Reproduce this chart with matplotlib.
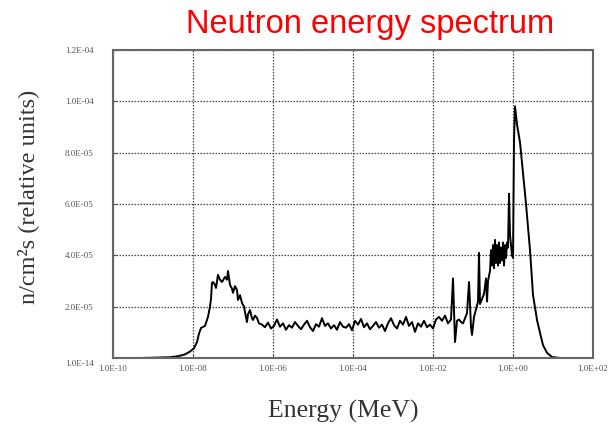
import numpy as np
import matplotlib
matplotlib.use("Agg")
import matplotlib.pyplot as plt
import matplotlib.transforms as mtransforms


# spectrum read as log10(E / MeV) and flux in units of 1e-5 n/cm2s
log_energy = [
    -9.325, -9.075, -8.825, -8.575, -8.375, -8.2, -8.075, -7.975, -7.9, -7.85,
    -7.8, -7.7, -7.625, -7.575, -7.55, -7.525, -7.5, -7.45, -7.425, -7.375,
    -7.325, -7.275, -7.2, -7.15, -7.125, -7.075, -7.025, -7.0, -6.95, -6.9,
    -6.875, -6.825, -6.775, -6.725, -6.7, -6.65, -6.625, -6.575, -6.525, -6.5,
    -6.45, -6.4, -6.35,
    -6.275, -6.2, -6.125, -6.05, -5.975, -5.9, -5.825, -5.75, -5.675, -5.6,
    -5.525, -5.45, -5.375, -5.3, -5.225, -5.15, -5.075, -5.0, -4.925, -4.85,
    -4.775, -4.7, -4.625, -4.55, -4.475, -4.4, -4.325, -4.25, -4.175, -4.1,
    -4.025, -3.95, -3.875, -3.8, -3.725, -3.65, -3.575, -3.5, -3.425, -3.35,
    -3.275, -3.2, -3.125, -3.05, -2.975, -2.9, -2.825, -2.75, -2.675, -2.6,
    -2.525, -2.45, -2.375, -2.3, -2.225, -2.15, -2.075, -2.0, -1.925, -1.85,
    -1.775, -1.7, -1.625,
    -1.55, -1.5, -1.45, -1.4, -1.35, -1.3, -1.25, -1.2, -1.15, -1.1,
    -1.05, -1.025, -0.975, -0.925, -0.875, -0.85, -0.825, -0.775, -0.725, -0.675,
    -0.65, -0.625, -0.575, -0.55, -0.525, -0.5, -0.475, -0.45, -0.425, -0.4,
    -0.375, -0.35, -0.325, -0.3, -0.275, -0.25, -0.225, -0.2, -0.175, -0.15,
    -0.125, -0.1, -0.075, -0.05, -0.025, 0.0, 0.025, 0.05, 0.1, 0.175,
    0.25, 0.325, 0.425, 0.5, 0.6, 0.675, 0.75, 0.85, 0.975, 1.175,
]
flux = [
    0.0, 0.01, 0.02, 0.03, 0.07, 0.14, 0.25, 0.38, 0.62, 0.95,
    1.17, 1.25, 1.60, 2.00, 2.30, 2.93, 2.96, 2.85, 2.73, 3.24,
    3.05, 2.96, 3.16, 3.05, 3.39, 2.85, 2.70, 2.54, 2.80, 2.65,
    2.26, 2.45, 2.15, 2.00, 1.79, 1.40, 1.70, 1.87, 1.55, 1.48,
    1.65, 1.56, 1.35,
    1.30, 1.20, 1.38, 1.15, 1.25, 1.50, 1.22, 1.35, 1.10, 1.28,
    1.18, 1.40, 1.25, 1.12, 1.30, 1.45, 1.20, 1.05, 1.32, 1.22,
    1.55, 1.25, 1.35, 1.15, 1.28, 1.10, 1.40, 1.22, 1.18, 1.32,
    1.08, 1.45, 1.30, 1.52, 1.20, 1.35, 1.12, 1.25, 1.40, 1.18,
    1.30, 1.05, 1.35, 1.55, 1.28, 1.15, 1.45, 1.30, 1.60, 1.25,
    1.40, 1.02, 1.35, 1.22, 1.45, 1.20, 1.30, 1.15, 1.50, 1.60,
    1.45, 1.65, 1.35,
    1.50, 3.10, 0.62, 1.45, 1.50, 1.40, 1.35, 1.55, 1.75, 2.96,
    1.20, 0.90, 1.60, 1.90, 2.20, 4.10, 2.10, 2.30, 2.50, 3.10,
    2.20, 3.00, 3.40, 4.20, 3.60, 4.40, 3.50, 4.60, 3.70, 4.40,
    3.60, 4.50, 3.70, 4.30, 3.80, 4.50, 3.60, 4.40, 3.90, 4.50,
    4.30, 6.40, 4.80, 4.40, 4.00, 3.90, 8.50, 9.80, 9.10, 8.40,
    7.20, 6.00, 4.20, 2.45, 1.48, 0.98, 0.50, 0.20, 0.04, 0.0,
]

x_ticks = [1e-10, 1e-8, 1e-6, 1e-4, 1e-2, 1e0, 1e2]
x_labels = ["1.0E-10", "1.0E-08", "1.0E-06", "1.0E-04", "1.0E-02", "1.0E+00", "1.0E+02"]
y_ticks = [0, 2e-5, 4e-5, 6e-5, 8e-5, 1e-4, 1.2e-4]
y_labels = ["1.0E-14", "2.0E-05", "4.0E-05", "6.0E-05", "8.0E-05", "1.0E-04", "1.2E-04"]

energy = 10.0 ** np.array(log_energy)
flux_abs = np.array(flux) * 1e-5

fig = plt.figure(figsize=(6.16, 4.32), dpi=100)
ax = fig.add_axes([0.1834, 0.1713, 0.7793, 0.713])

ax.plot(energy, flux_abs, color="black", lw=1.4)

ax.set_xscale("log")
ax.set_xlim(1e-10, 1e2)
ax.set_ylim(0, 1.2e-4)
ax.minorticks_off()
ax.set_xticks(x_ticks)
ax.set_xticklabels(x_labels)
ax.set_yticks(y_ticks)
ax.set_yticklabels(y_labels)
ax.tick_params(direction="in", length=3, width=0.8, color="#555555",
               labelsize=6.5, labelcolor="#555555")
ax.tick_params(axis="x", pad=5)
ax.tick_params(axis="y", pad=14)
for lab in ax.get_xticklabels() + ax.get_yticklabels():
    lab.set_family("Liberation Serif")
# bottom label sits a little under the axis line
bottom = ax.get_yticklabels()[0]
bottom.set_transform(bottom.get_transform() +
                     mtransforms.ScaledTranslation(0, -5 / 100, fig.dpi_scale_trans))

ax.grid(True, color="#444444", lw=0.9, ls=(0, (1.2, 1.2)))
for s in ax.spines.values():
    s.set_color("#666666")
    s.set_linewidth(1.5)

fig.text(343 / 616, 1 - 411 / 432, "Energy (MeV)", family="Liberation Serif",
         fontsize=18.5, color="#333333", ha="center", va="center")
fig.text(28 / 616, 1 - 197 / 432, "n/cm\u00b2s (relative units)",
         family="Liberation Serif", fontsize=17.5, color="#333333",
         rotation=90, ha="center", va="center")
fig.text(0.60, 0.924, "Neutron energy spectrum", color="#ff0000",
         family="Liberation Sans", fontsize=23.5, ha="center", va="baseline")

fig.savefig("out.png", dpi=100)
